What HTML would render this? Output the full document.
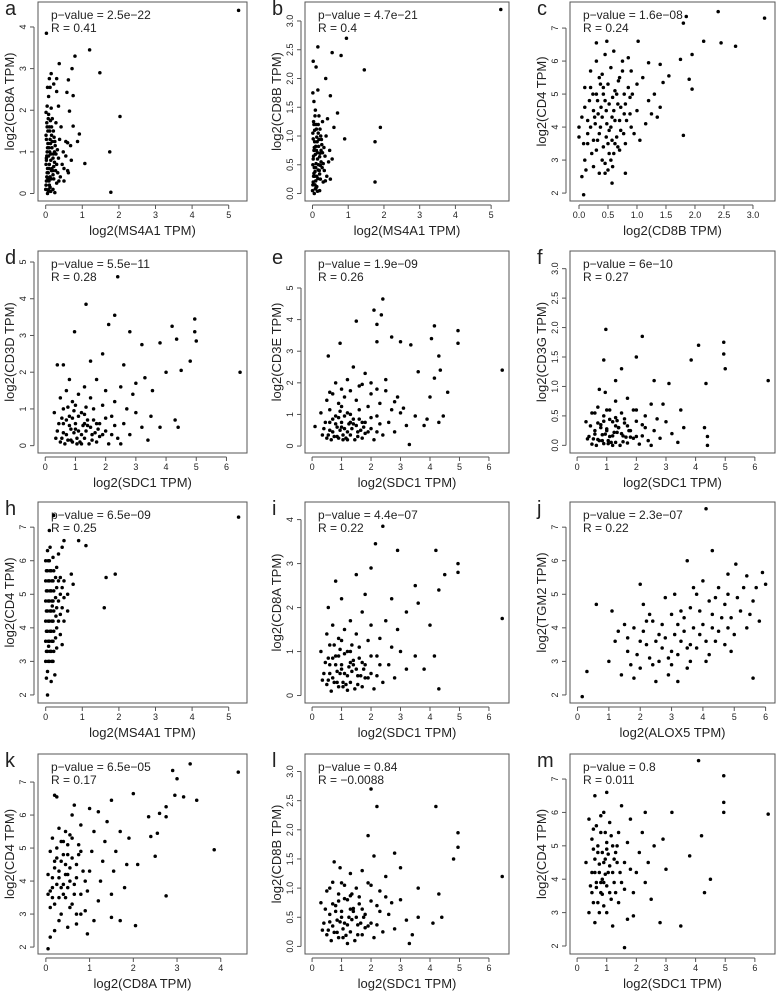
<!DOCTYPE html>
<html><head><meta charset="utf-8"><style>
html,body{margin:0;padding:0;background:#fff;}
svg text{font-family:"Liberation Sans",Arial,sans-serif;fill:#222;}
</style></head><body>
<svg id="fig" width="776" height="992" viewBox="0 0 776 992" xmlns="http://www.w3.org/2000/svg"></svg>
<script>
// ---------- data (x,y pairs, flat) ----------
const aVals=[5.27,4.4,0.02,3.85,1.2,3.45,0.8,3.3,0.37,3.12,0.72,3.0,1.48,2.9,0.15,2.88,0.1,2.76,0.3,2.76,0.62,2.73,0.22,2.63,0.05,2.55,0.12,2.55,0.58,2.43,0.75,2.35,0.08,2.33,0.3,2.45,2.03,1.85,0.92,1.43,0.65,1.98,0.75,1.62,0.87,1.25,1.75,1.0,1.07,0.72,1.78,0.03,0.55,1.25,0.6,1.22,0.5,0.6,0.62,0.5,
0,0.1,0.02,0.3,0.04,0.5,0.01,0.7,0.03,0.9,0.05,1.1,0.02,1.3,0.06,1.5,0.03,1.7,0.08,1.9,0.04,2.1,0.1,0.2,0.12,0.4,0.09,0.6,0.14,0.8,0.11,1.0,0.13,1.2,0.16,1.4,0.1,1.6,0.18,1.8,0.15,2.05,0.2,0.1,0.22,0.35,0.19,0.55,0.24,0.75,0.21,0.95,0.26,1.15,0.23,1.35,0.28,1.7,0.3,0.25,0.33,0.5,0.35,0.85,0.32,1.05,0.38,1.3,0.4,0.4,0.45,0.7,0.42,1.6,0.5,0.3,0.48,1.0,0.55,0.9,0.6,0.55,0.68,1.15,0.7,0.8,0.35,2.1,0.07,0.05,0.25,0.02,0.01,1.95,0.17,0.6,0.06,0.35,0.27,0.55,0.13,1.75,0.02,0.85,
0.01,0.2,0.03,0.4,0.05,0.6,0.02,0.8,0.04,1.0,0.06,1.2,0.01,1.4,0.04,1.6,0.07,1.8,0.08,0.1,0.09,0.3,0.07,0.5,0.1,0.7,0.08,0.9,0.09,1.1,0.12,1.3,0.11,1.5,0.12,0.15,0.15,0.35,0.16,0.55,0.14,0.95,0.17,1.1,0.18,1.25,0.16,1.6,0.2,0.45,0.22,0.65,0.2,0.85,0.24,1.0,0.25,1.25,0.21,1.5,0.05,0.0,0.14,0.05,0.3,0.7,0.36,0.3,0.28,0.95];
const bVals=[5.27,3.2,0.95,2.7,0.55,2.45,0.8,2.4,0.37,2.0,1.45,2.15,0.02,2.3,0.1,2.2,1.9,1.15,1.75,0.9,1.75,0.2,0.7,1.4,0.6,1.15,0.5,1.7,0.9,0.95,0.15,2.55,
0,0.05,0.02,0.2,0.04,0.35,0.01,0.5,0.03,0.65,0.05,0.8,0.02,0.95,0.06,1.1,0.03,1.25,0.08,1.45,0.04,1.6,0.1,0.1,0.12,0.3,0.09,0.45,0.14,0.6,0.11,0.75,0.13,0.9,0.16,1.05,0.1,1.2,0.18,1.35,0.15,1.8,0.2,0.05,0.22,0.25,0.19,0.4,0.24,0.55,0.21,0.7,0.26,0.85,0.23,1.0,0.28,1.25,0.3,0.2,0.33,0.4,0.35,0.65,0.32,0.8,0.38,1.0,0.4,0.3,0.45,0.55,0.42,1.3,0.5,0.25,0.48,0.75,0.55,0.6,0.07,0.15,0.01,1.75,0.17,0.5,0.06,0.3,0.27,0.45,
0.01,0.15,0.03,0.3,0.05,0.45,0.02,0.6,0.04,0.75,0.06,0.9,0.01,1.05,0.04,1.2,0.07,1.35,0.08,0.08,0.09,0.22,0.07,0.38,0.1,0.52,0.08,0.68,0.09,0.82,0.12,0.98,0.11,1.12,0.12,0.12,0.15,0.26,0.16,0.41,0.14,0.71,0.17,0.82,0.18,0.94,0.16,1.2,0.2,0.34,0.22,0.49,0.2,0.64,0.24,0.75,0.25,0.94,0.21,1.12,0.05,0.0,0.14,0.04,0.3,0.52,0.36,0.22,0.28,0.71];
const cVals=[2.4,7.5,3.2,7.3,1.85,7.35,1.8,7.15,2.15,6.6,2.45,6.55,2.7,6.45,1.95,6.2,1.75,6.05,1.9,5.45,1.95,5.15,1.8,3.75,1.55,5.55,1.45,5.35,1.4,5.9,1.2,5.95,1.02,6.6,0.48,6.6,0.3,6.55,0.08,1.95,0.05,2.5,0.57,2.3,0.8,2.6,0.0,3.7,0.0,4.0,
0.1,3.0,0.15,3.5,0.2,4.0,0.25,4.5,0.3,5.0,0.35,5.5,0.2,5.2,0.1,4.6,0.15,4.2,0.3,3.3,0.35,3.8,0.4,4.3,0.45,4.8,0.5,5.3,0.55,5.8,0.4,3.0,0.5,3.5,0.55,4.0,0.6,4.5,0.65,5.0,0.7,5.5,0.75,6.0,0.6,3.2,0.65,3.7,0.7,4.2,0.8,4.7,0.85,5.2,0.9,5.7,0.8,3.5,0.9,4.0,1.0,4.5,1.0,5.3,1.1,5.5,1.2,4.8,1.25,4.4,1.3,5.0,0.25,2.8,0.35,2.6,0.45,2.9,0.5,2.7,0.55,3.0,0.3,6.0,0.45,6.2,0.6,6.3,0.2,5.7,0.1,5.2,0.05,4.3,0.08,3.5,0.12,2.7,0.28,4.1,0.38,4.6,0.48,4.1,0.58,4.9,0.42,5.0,0.33,4.4,0.52,3.9,0.62,4.2,0.72,3.9,0.78,4.4,0.88,4.9,0.95,3.8,1.05,3.6,1.15,4.1,0.25,3.6,0.18,4.8,0.7,3.3,0.75,5.7,0.85,6.1,1.35,4.3,1.4,4.6,
0.22,3.2,0.32,3.6,0.42,3.4,0.52,3.2,0.62,3.5,0.27,4.3,0.37,4.0,0.47,4.5,0.57,4.3,0.67,4.7,0.32,4.8,0.42,5.2,0.52,4.7,0.62,5.1,0.72,4.6,0.37,5.3,0.47,3.7,0.57,3.6,0.67,3.4,0.77,3.8,0.82,4.2,0.24,5.0,0.15,3.8,0.45,2.6,0.58,2.8,0.68,5.4,0.4,5.6,0.88,4.4,0.92,5.0,0.78,5.0];
const dVals=[6.45,2.0,2.4,4.6,1.35,3.85,0.97,3.1,2.3,3.55,2.1,3.3,4.95,3.45,4.95,3.1,4.2,3.25,3.8,2.8,3.2,2.75,4.35,2.9,2.8,3.1,3.3,1.85,4.5,2.05,4.0,2.0,4.3,0.7,4.4,0.5,5.0,2.85,4.8,2.3,3.55,1.5,3.0,1.7,2.6,2.2,1.9,2.5,1.5,2.3,0.6,2.2,0.4,2.2,0.8,1.8,
0.5,0.1,0.7,0.3,0.9,0.1,1.1,0.4,1.3,0.2,1.5,0.5,1.7,0.1,1.9,0.3,0.6,0.6,0.8,0.8,1.0,0.6,1.2,0.9,1.4,0.7,1.6,1.0,1.8,0.6,2.0,0.4,2.2,0.8,2.4,0.2,2.6,0.6,2.8,0.3,3.0,0.9,3.2,0.5,0.4,0.4,0.3,0.9,0.5,1.3,0.7,1.5,0.9,1.2,1.1,1.4,1.3,1.6,1.5,1.3,1.7,1.8,2.0,1.5,2.3,1.2,2.5,1.6,2.7,1.0,2.9,1.4,3.5,0.8,3.8,0.5,0.65,0.05,0.85,0.45,1.05,0.2,1.25,0.55,1.45,0.05,1.65,0.35,1.2,0.05,0.95,0.95,1.55,0.15,2.1,0.05,2.5,0.05,3.4,0.15,0.75,1.05,1.35,1.05,0.55,0.75,
0.55,0.2,0.75,0.15,0.95,0.35,1.15,0.1,1.35,0.4,1.55,0.3,1.75,0.45,0.6,0.35,0.8,0.55,1.0,0.45,1.2,0.3,1.4,0.55,1.6,0.7,1.8,0.25,2.0,0.75,2.2,0.3,0.7,0.7,0.9,0.75,1.1,0.8,1.3,0.85,0.45,0.6,0.85,0.15,1.05,0.05,1.3,0.6,1.7,0.6,2.3,0.55,0.35,0.2,0.6,1.0,1.0,1.1,1.9,1.1];
const eVals=[6.45,2.4,2.4,4.65,2.1,4.3,2.35,4.15,1.5,3.95,2.2,3.85,4.15,3.8,4.95,3.65,4.95,3.25,4.05,3.4,2.7,3.45,3.0,3.3,3.35,3.2,2.2,3.3,0.95,3.25,0.55,2.85,4.3,2.85,3.6,2.35,4.35,2.4,4.15,2.15,4.6,1.7,4.0,1.55,3.9,0.85,4.3,0.75,4.45,0.95,3.3,0.05,0.1,0.62,1.8,2.3,
0.5,0.25,0.7,0.45,0.9,0.25,1.1,0.55,1.3,0.35,1.5,0.65,1.7,0.25,1.9,0.45,0.6,0.75,0.8,0.95,1.0,0.75,1.2,1.05,1.4,0.85,1.6,1.15,1.8,0.75,2.0,0.55,2.2,0.95,2.4,0.35,2.6,0.75,2.8,0.45,3.0,1.05,3.2,0.65,0.4,0.55,0.3,1.05,0.5,1.45,0.7,1.65,0.9,1.35,1.1,1.55,1.3,1.75,1.5,1.45,1.7,1.95,2.0,1.65,2.3,1.35,2.5,1.75,2.7,1.15,2.9,1.55,3.5,0.95,3.8,0.65,0.65,0.2,0.85,0.6,1.05,0.35,1.25,0.7,1.45,0.2,1.65,0.5,1.2,0.2,0.95,1.1,1.55,0.3,2.1,0.2,0.6,1.7,0.8,2.0,1.0,1.8,1.2,2.1,1.4,2.5,1.6,1.9,2.0,2.0,2.2,1.8,2.5,2.1,2.8,1.4,3.1,1.2,
0.55,0.35,0.75,0.3,0.95,0.5,1.15,0.25,1.35,0.55,1.55,0.45,1.75,0.6,0.6,0.5,0.8,0.7,1.0,0.6,1.2,0.45,1.4,0.7,1.6,0.85,1.8,0.4,2.0,0.9,2.2,0.45,0.7,0.85,0.9,0.9,1.1,0.95,1.3,1.0,0.45,0.75,0.85,0.3,1.05,0.2,1.3,0.75,1.7,0.75,2.3,0.7,0.35,0.35,0.6,1.15,1.0,1.25,1.9,1.25];
const fVals=[6.45,1.1,0.97,1.97,2.2,1.85,4.95,1.75,4.95,1.55,4.1,1.7,3.85,1.45,4.35,1.05,4.3,0.3,4.4,0.15,5.0,1.3,4.4,0.0,2.0,1.5,2.6,1.1,3.1,1.05,1.5,1.3,0.9,1.45,1.3,1.1,2.9,0.7,3.5,0.6,
0.5,0.02,0.7,0.1,0.9,0.03,1.1,0.15,1.3,0.05,1.5,0.2,1.7,0.04,1.9,0.12,0.6,0.25,0.8,0.35,1.0,0.28,1.2,0.4,1.4,0.3,1.6,0.45,1.8,0.25,2.0,0.15,2.2,0.35,2.4,0.08,2.6,0.25,2.8,0.12,3.0,0.4,3.2,0.2,0.4,0.15,0.3,0.4,0.5,0.55,0.7,0.65,0.9,0.5,1.1,0.6,1.3,0.75,1.5,0.55,1.7,0.8,2.0,0.6,2.3,0.5,2.5,0.7,2.7,0.45,0.65,0.0,0.85,0.18,1.05,0.08,1.25,0.22,1.45,0.0,1.65,0.14,1.2,0.0,0.95,0.9,1.55,0.06,2.1,0.02,2.5,0.0,3.4,0.05,0.75,0.95,1.35,0.42,3.6,0.3,
0.55,0.11,0.75,0.08,0.95,0.19,1.15,0.05,1.35,0.22,1.55,0.16,1.75,0.25,0.6,0.19,0.8,0.3,1.0,0.25,1.2,0.16,1.4,0.3,1.6,0.38,1.8,0.14,2.0,0.41,2.2,0.16,0.7,0.38,0.9,0.41,1.1,0.44,1.3,0.47,0.45,0.33,0.85,0.08,1.05,0.03,1.3,0.33,1.7,0.33,2.3,0.3,0.35,0.11,0.6,0.55,1.0,0.6,1.9,0.6];
const hVals=[5.27,7.3,0.22,7.35,0.9,6.6,1.1,6.45,1.65,5.5,1.9,5.6,1.6,4.6,0.7,5.6,0.75,5.3,0.6,4.5,0.05,2.0,0.15,2.4,0.1,6.9,0.5,6.6,0.45,6.4,
0,3,0,3.6,0,4.2,0,4.8,0,5.4,0,6.0,0.05,2.7,0.05,3.3,0.05,3.9,0.05,4.5,0.05,5.1,0.05,5.7,0.05,6.3,0.1,3.0,0.1,3.6,0.1,4.2,0.1,4.8,0.1,5.4,0.1,6.0,0.15,3.3,0.15,3.9,0.15,4.5,0.15,5.1,0.15,5.7,0.2,3.0,0.2,3.6,0.2,4.2,0.2,4.8,0.2,5.4,0.2,6.1,0.3,3.4,0.3,4.0,0.3,4.6,0.3,5.2,0.3,5.8,0.4,3.8,0.4,4.4,0.4,5.0,0.4,5.5,0.5,4.2,0.5,4.9,0.5,5.4,0.6,5.0,0.25,2.6,0.02,2.5,0.12,6.4,0.35,6.2,0.08,3.45,0.18,4.65,0.28,4.35,0.45,3.5,
0.02,3.3,0.02,3.9,0.02,4.5,0.02,5.1,0.02,5.7,0.07,3.0,0.07,3.6,0.07,4.2,0.07,4.8,0.07,5.4,0.07,6.0,0.12,3.3,0.12,3.9,0.12,4.5,0.12,5.1,0.12,5.7,0.17,3.0,0.17,3.6,0.17,4.2,0.17,4.8,0.17,5.4,0.22,3.3,0.22,3.9,0.22,4.5,0.22,5.1,0.22,5.7,0.27,3.7,0.27,4.9,0.27,5.5,0.35,4.2,0.35,4.8,0.35,5.4,0.45,4.6,0.45,5.2];
const iVals=[6.45,1.75,2.4,3.85,2.15,3.45,4.2,3.3,2.9,3.3,4.95,3.0,4.95,2.8,4.5,2.75,4.3,2.4,2.0,2.9,3.5,2.5,1.5,2.75,3.6,2.1,4.0,1.6,4.15,0.9,4.3,0.15,3.2,1.9,2.7,2.2,1.8,2.3,1.0,2.2,0.8,2.6,0.55,2.0,
0.5,0.25,0.7,0.4,0.9,0.2,1.1,0.5,1.3,0.3,1.5,0.6,1.7,0.2,1.9,0.4,0.6,0.7,0.8,0.9,1.0,0.7,1.2,1.0,1.4,0.8,1.6,1.1,1.8,0.7,2.0,0.5,2.2,0.9,2.4,0.3,2.6,0.7,2.8,0.4,3.0,1.0,3.2,0.6,0.4,0.5,0.3,1.0,0.5,1.4,0.7,1.6,0.9,1.3,1.1,1.5,1.3,1.7,1.5,1.4,1.7,1.9,2.0,1.6,2.3,1.3,2.5,1.7,2.7,1.1,2.9,1.5,3.5,0.9,3.8,0.6,0.65,0.1,0.85,0.55,1.05,0.3,1.25,0.65,1.45,0.15,1.65,0.45,1.2,0.12,0.95,1.05,1.55,0.25,2.1,0.15,0.75,1.15,1.35,1.15,0.55,0.85,
0.55,0.35,0.75,0.3,0.95,0.5,1.15,0.25,1.35,0.55,1.55,0.45,1.75,0.6,0.6,0.5,0.8,0.7,1.0,0.6,1.2,0.45,1.4,0.7,1.6,0.85,1.8,0.4,2.0,0.9,2.2,0.45,0.7,0.85,0.9,0.9,1.1,0.95,1.3,1.0,0.45,0.75,0.85,0.3,1.05,0.2,1.3,0.75,1.7,0.75,2.3,0.7,0.35,0.35,0.6,1.15,1.0,1.25,1.9,1.25];
const jVals=[4.1,7.55,0.15,1.95,0.3,2.7,4.3,6.3,5.05,5.9,4.8,5.6,5.9,5.65,6.0,5.3,5.4,5.55,3.5,6.0,5.6,2.5,2.0,5.3,0.6,4.7,1.1,4.5,
1.0,3.0,1.2,3.6,1.4,2.6,1.6,3.3,1.8,4.0,2.0,2.8,2.2,3.5,2.4,4.2,2.6,3.0,2.8,3.7,3.0,4.4,3.2,3.2,3.4,3.9,3.6,4.6,3.8,3.4,4.0,4.1,4.2,4.8,4.4,3.6,4.6,4.3,4.8,5.0,5.0,3.8,5.2,4.5,5.4,4.0,5.6,4.8,5.8,4.2,1.5,4.1,2.1,4.7,2.5,2.4,2.9,2.6,3.1,5.0,3.5,2.8,3.7,5.2,4.1,3.0,4.5,5.2,4.9,3.3,2.3,3.1,2.7,3.4,3.3,3.6,3.9,3.8,4.3,4.0,2.6,3.8,3.0,3.3,3.4,4.3,2.0,3.6,1.7,2.9,3.6,3.0,4.7,4.7,5.3,5.2,1.3,3.9,2.8,4.9,3.2,2.4,4.0,5.4,
1.9,3.2,2.1,3.9,2.3,4.4,2.5,3.6,2.7,4.1,2.9,3.1,3.1,3.8,3.3,4.5,3.5,3.4,3.7,4.0,3.9,4.5,4.1,3.6,4.3,4.4,4.5,3.9,4.7,3.5,4.9,4.3,5.1,4.9,5.5,4.4,5.7,5.2,1.8,2.5,2.4,2.9,3.0,2.9,3.6,3.5,4.2,3.2,4.8,4.0,2.2,4.2,3.8,5.0,4.4,4.9,1.6,3.7,3.2,4.1];
const kVals=[3.3,7.55,4.4,7.3,2.9,7.35,3.0,7.1,2.95,6.6,3.15,6.55,3.45,6.45,2.0,6.65,1.5,6.45,0.2,6.6,0.25,6.55,2.75,6.25,2.6,6.05,2.35,5.95,2.4,5.35,2.55,5.45,2.75,5.95,3.85,4.95,2.5,4.75,2.75,3.55,2.05,2.65,0.05,1.95,0.1,2.3,0.95,2.4,
0.1,3.2,0.15,3.8,0.2,4.4,0.25,5.0,0.3,5.6,0.1,4.9,0.35,3.0,0.4,3.6,0.45,4.2,0.5,4.8,0.55,5.4,0.6,6.0,0.6,3.3,0.65,3.9,0.7,4.5,0.75,5.1,0.8,5.7,0.9,3.1,0.95,3.7,1.0,4.3,1.05,4.9,1.1,5.5,1.2,3.4,1.25,4.0,1.3,4.6,1.35,5.2,1.4,5.8,1.5,3.6,1.55,4.3,1.6,4.9,1.7,5.5,1.8,3.8,1.85,4.5,1.9,5.3,2.1,4.5,0.2,2.5,0.3,2.8,0.5,2.6,0.7,2.7,0.8,3.0,1.1,2.8,1.5,2.9,1.7,2.8,0.05,4.2,0.15,5.3,0.35,4.6,0.45,3.5,0.55,4.0,0.3,4.1,0.4,5.2,0.05,3.6,0.65,6.3,1.0,6.2,1.2,6.1,
0.15,3.5,0.25,3.9,0.2,4.6,0.3,4.3,0.35,5.2,0.4,3.9,0.45,4.5,0.5,3.8,0.55,4.4,0.5,5.1,0.6,4.7,0.65,3.6,0.7,4.1,0.75,4.8,0.8,3.6,0.85,4.3,0.4,4.8,0.3,3.5,0.2,3.3,0.15,4.1,0.25,4.7,0.5,4.2,0.35,3.8,0.6,5.3,0.45,5.5,0.7,3.0,0.9,4.0,0.1,3.7,0.55,3.2,0.8,4.9];
const lVals=[6.45,1.2,2.0,2.7,2.2,2.4,4.2,2.4,1.9,1.9,4.95,1.95,4.95,1.7,4.8,1.5,2.8,1.6,2.1,1.55,4.3,0.9,4.4,0.5,3.3,0.05,4.1,0.4,3.0,1.35,3.6,1.0,2.5,1.2,
0.5,0.2,0.7,0.35,0.9,0.15,1.1,0.4,1.3,0.25,1.5,0.5,1.7,0.2,1.9,0.35,0.6,0.55,0.8,0.7,1.0,0.6,1.2,0.8,1.4,0.65,1.6,0.85,1.8,0.55,2.0,0.4,2.2,0.7,2.4,0.25,2.6,0.55,2.8,0.3,3.0,0.8,3.2,0.45,0.4,0.4,0.3,0.75,0.5,0.95,0.7,1.1,0.9,0.9,1.1,1.05,1.3,1.25,1.5,1.0,1.7,1.3,2.0,1.05,2.3,0.95,2.5,0.85,2.7,0.75,0.65,0.1,0.85,0.45,1.05,0.3,1.25,0.5,1.45,0.1,1.65,0.4,1.2,0.05,0.95,1.35,1.55,0.2,2.1,0.15,3.4,0.2,0.75,1.45,1.35,0.9,3.6,0.5,
0.55,0.28,0.75,0.24,0.95,0.42,1.15,0.19,1.35,0.46,1.55,0.37,1.75,0.5,0.6,0.42,0.8,0.6,1.0,0.5,1.2,0.37,1.4,0.6,1.6,0.73,1.8,0.32,2.0,0.78,2.2,0.37,0.7,0.73,0.9,0.78,1.1,0.82,1.3,0.87,0.45,0.64,0.85,0.24,1.05,0.15,1.3,0.64,1.7,0.64,2.3,0.6,0.35,0.28,0.6,1.0,1.0,1.09,1.9,1.09];
const mVals=[4.1,7.55,6.45,5.95,4.95,7.1,4.95,6.3,4.95,6.0,4.2,5.3,3.2,6.0,2.8,2.7,2.3,3.9,4.3,3.6,4.5,4.0,3.8,4.7,3.0,4.3,2.9,5.2,1.6,1.95,3.5,2.6,
0.4,3.0,0.5,3.6,0.6,4.2,0.7,4.8,0.8,5.4,0.9,6.0,0.5,5.2,0.6,2.7,0.7,3.3,0.8,3.9,0.9,4.5,1.0,5.1,1.1,5.7,1.0,3.0,1.1,3.6,1.2,4.2,1.3,4.8,1.4,5.4,1.5,6.2,1.4,3.3,1.5,3.9,1.6,4.5,1.7,5.1,1.8,5.8,1.9,3.6,2.0,4.2,2.1,4.8,2.2,5.4,2.4,4.5,2.5,3.4,0.3,4.5,0.4,5.8,0.6,6.5,1.0,6.6,1.2,2.6,1.7,2.8,0.85,3.55,0.95,4.15,1.05,4.75,0.75,4.45,1.25,3.9,1.35,4.5,0.65,3.75,2.6,5.0,2.3,6.0,1.9,2.9,0.55,4.9,1.15,5.3,
0.55,3.3,0.65,3.9,0.75,4.2,0.85,4.8,0.95,5.4,0.6,4.6,0.7,5.0,0.8,3.6,0.9,3.2,1.0,3.8,1.1,4.4,1.2,5.0,0.65,5.6,0.75,3.0,0.85,4.0,0.95,4.6,1.05,4.2,1.15,3.4,1.25,4.6,1.35,5.0,0.5,4.2,0.45,3.8,1.45,4.2,0.55,5.5,0.8,5.9,1.0,4.9,1.3,3.6,1.6,3.7,1.8,4.3,0.9,3.9];

const panelLetters=["a","b","c","d","e","f","h","i","j","k","l","m"];
const xTitles=["log2(MS4A1 TPM)","log2(MS4A1 TPM)","log2(CD8B TPM)","log2(SDC1 TPM)","log2(SDC1 TPM)","log2(SDC1 TPM)","log2(MS4A1 TPM)","log2(SDC1 TPM)","log2(ALOX5 TPM)","log2(CD8A TPM)","log2(SDC1 TPM)","log2(SDC1 TPM)"];
const yTitles=["log2(CD8A TPM)","log2(CD8B TPM)","log2(CD4 TPM)","log2(CD3D TPM)","log2(CD3E TPM)","log2(CD3G TPM)","log2(CD4 TPM)","log2(CD8A TPM)","log2(TGM2 TPM)","log2(CD4 TPM)","log2(CD8B TPM)","log2(CD4 TPM)"];
const pValues=["2.5e\u221222","4.7e\u221221","1.6e\u221208","5.5e\u221211","1.9e\u221209","6e\u221210","6.5e\u221209","4.4e\u221207","2.3e\u221207","6.5e\u221205","0.84","0.8"];
const rValues=["0.41","0.4","0.24","0.28","0.26","0.27","0.25","0.22","0.22","0.17","\u22120.0088","0.011"];
const xTickSets=[[0,1,2,3,4,5],[0,1,2,3,4,5],["0.0","0.5","1.0","1.5","2.0","2.5","3.0"],[0,1,2,3,4,5,6],[0,1,2,3,4,5,6],[0,1,2,3,4,5,6],[0,1,2,3,4,5],[0,1,2,3,4,5,6],[0,1,2,3,4,5,6],[0,1,2,3,4],[0,1,2,3,4,5,6],[0,1,2,3,4,5,6]];
const yTickSets=[[0,1,2,3,4],["0.0","0.5","1.0","1.5","2.0","2.5","3.0"],[2,3,4,5,6,7],[0,1,2,3,4,5],[0,1,2,3,4,5],["0.0","0.5","1.0","1.5","2.0","2.5","3.0"],[2,3,4,5,6,7],[0,1,2,3,4],[2,3,4,5,6,7],[2,3,4,5,6,7],["0.0","0.5","1.0","1.5","2.0","2.5","3.0"],[2,3,4,5,6,7]];
const xDomains=[[-0.21,5.5],[-0.21,5.5],[-0.155,3.38],[-0.24,6.68],[-0.24,6.68],[-0.24,6.68],[-0.21,5.5],[-0.24,6.68],[-0.24,6.3],[-0.18,4.6],[-0.24,6.68],[-0.24,6.68]];
const yDomains=[[-0.18,4.6],[-0.13,3.33],[1.76,7.79],[-0.2,5.3],[-0.22,6.17],[-0.13,3.3],[1.76,7.75],[-0.17,4.4],[1.76,7.75],[1.79,7.85],[-0.13,3.3],[1.76,7.75]];
const allVals=[aVals,bVals,cVals,dVals,eVals,fVals,hVals,iVals,jVals,kVals,lVals,mVals];

// ---------- layout ----------
const colL=[38,305,570], colW=[209,204,205];
const rowT=[2,251,502,754], rowH=[199,202,201,200];
const NS="http://www.w3.org/2000/svg";
const svg=document.getElementById('fig');
function mk(tag,attrs,parent){const e=document.createElementNS(NS,tag);for(const k in attrs)e.setAttribute(k,attrs[k]);(parent||svg).appendChild(e);return e;}

for(let p=0;p<12;p++){
  const r=Math.floor(p/3), c=p%3;
  const L=colL[c], T=rowT[r], W=colW[c], H=rowH[r];
  const xd=xDomains[p], yd=yDomains[p];
  const sx=v=>L+(v-xd[0])/(xd[1]-xd[0])*W;
  const sy=v=>T+H-(v-yd[0])/(yd[1]-yd[0])*H;
  const g=mk('g',{});
  
  
  const box=mk('rect',{x:L,y:T,width:W,height:H,fill:'none',stroke:'#555','stroke-width':1},g);
  
  
  const xt=xTickSets[p];
  const xl=mk('line',{x1:sx(+xt[0]),x2:sx(+xt[xt.length-1]),y1:T+H+4,y2:T+H+4,stroke:'#555'},g);
  
  
  xt.forEach(t=>{
    const x=sx(+t);
    mk('line',{x1:x,x2:x,y1:T+H+4,y2:T+H+8,stroke:'#555'},g);
    const tx=mk('text',{x:x,y:T+H+17,'font-size':9,'text-anchor':'middle'},g);
    tx.textContent=t;
    
    
  });
  const yt=yTickSets[p];
  const yl=mk('line',{x1:L-4,x2:L-4,y1:sy(+yt[0]),y2:sy(+yt[yt.length-1]),stroke:'#555'},g);
  
  
  yt.forEach(t=>{
    const y=sy(+t);
    mk('line',{x1:L-8,x2:L-4,y1:y,y2:y,stroke:'#555'},g);
    const ty=mk('text',{x:L-12,y:y,'font-size':9,'text-anchor':'middle',transform:`rotate(-90 ${L-12} ${y})`},g);
    ty.textContent=t;
    
    
  });
  const xtitle=mk('text',{x:L+W/2,y:T+H+34,'font-size':13,'text-anchor':'middle'},g);
  xtitle.textContent=xTitles[p];
  
  
  const yx=L-24, yy=T+H/2;
  const ytitle=mk('text',{x:yx,y:yy,'font-size':13,'text-anchor':'middle',transform:`rotate(-90 ${yx} ${yy})`},g);
  ytitle.textContent=yTitles[p];
  
  
  const let_=mk('text',{x:L-33,y:T+13,'font-size':20},g);
  let_.textContent=panelLetters[p];
  
  
  const pv=mk('text',{x:L+13,y:T+17,'font-size':12},g);
  pv.textContent='p\u2212value = '+pValues[p];
  
  
  const rv=mk('text',{x:L+13,y:T+30,'font-size':12},g);
  rv.textContent='R = '+rValues[p];
  
  
  const vals=allVals[p];
  for(let i=0;i+1<vals.length;i+=2){
    const pt=mk('circle',{cx:sx(vals[i]),cy:sy(vals[i+1]),r:1.75,fill:'#000'},g);
    
    
  }
}
</script>
</body></html>
